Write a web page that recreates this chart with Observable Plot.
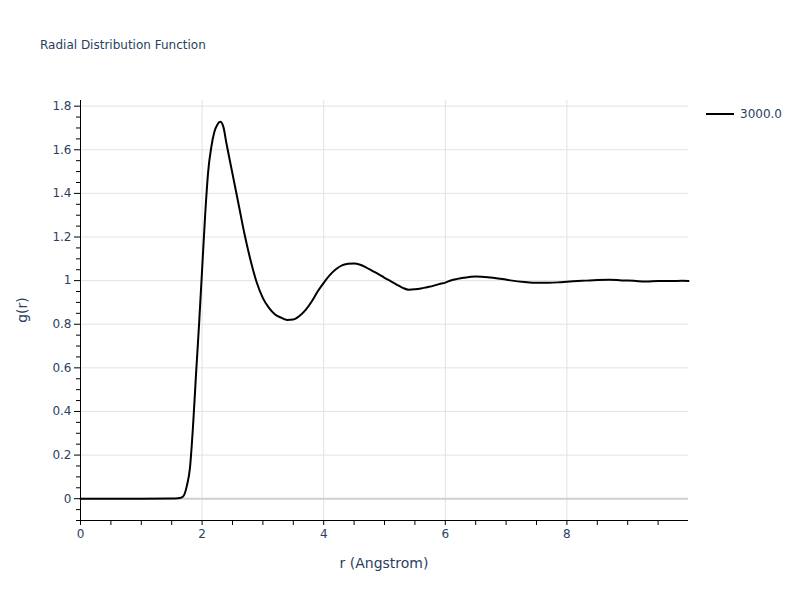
<!DOCTYPE html>
<html><head><meta charset="utf-8">
<script src="https://cdn.jsdelivr.net/npm/d3@7"></script>
<script src="https://cdn.jsdelivr.net/npm/@observablehq/plot@0.6"></script>
<style>
body{margin:0;background:#fff;font-family:"DejaVu Sans",Verdana,sans-serif;}
#wrap{position:relative;width:800px;height:600px;}
#title{position:absolute;left:40px;top:37px;font-size:12px;line-height:16px;color:#2a3f5f;}
#legend{position:absolute;left:706px;top:105px;height:18px;font-size:12px;line-height:18px;color:#2a3f5f;display:flex;align-items:center;}
#xlabel{position:absolute;left:0;width:768px;top:553px;text-align:center;font-size:14px;line-height:20px;color:#2a3f5f;}
#ylabel{position:absolute;left:22px;top:310px;font-size:14px;line-height:20px;color:#2a3f5f;transform:translate(-50%,-50%) rotate(-90deg);white-space:nowrap;}
</style></head><body>
<div id="wrap"><div id="chart"></div>
<div id="title">Radial Distribution Function</div>
<div id="legend"><svg width="34" height="4" style="margin-right:0"><line x1="0" x2="28" y1="2" y2="2" stroke="#000" stroke-width="2"/></svg><span id="legtext"></span></div>
<div id="xlabel">r (Angstrom)</div>
<div id="ylabel">g(r)</div>
</div>
<script>
const seriesName = "3000.0";
const r = [0, 0.5, 1.0, 1.5, 1.6, 1.65, 1.7, 1.75, 1.8, 1.85, 1.9, 1.95, 2.0, 2.05, 2.1, 2.15, 2.2, 2.25, 2.3, 2.35, 2.4, 2.5, 2.6, 2.7, 2.8, 2.9, 3.0, 3.1, 3.2, 3.3, 3.4, 3.5, 3.6, 3.7, 3.8, 3.9, 4.0, 4.1, 4.2, 4.3, 4.4, 4.5, 4.6, 4.7, 4.8, 4.9, 5.0, 5.1, 5.2, 5.3, 5.4, 5.5, 5.6, 5.7, 5.8, 5.9, 6.0, 6.1, 6.2, 6.3, 6.5, 6.7, 6.9, 7.1, 7.3, 7.5, 7.7, 7.9, 8.1, 8.3, 8.5, 8.7, 8.9, 9.1, 9.3, 9.5, 9.7, 9.9, 10.0];
const g = [0, 0, 0, 0.001, 0.002, 0.004, 0.015, 0.06, 0.14, 0.33, 0.57, 0.8, 1.05, 1.3, 1.5, 1.61, 1.68, 1.715, 1.728, 1.705, 1.63, 1.49, 1.35, 1.21, 1.09, 0.99, 0.92, 0.875, 0.845, 0.83, 0.82, 0.822, 0.838, 0.865, 0.903, 0.95, 0.99, 1.025, 1.052, 1.07, 1.077, 1.079, 1.073, 1.06, 1.045, 1.03, 1.013, 0.998, 0.982, 0.967, 0.958, 0.96, 0.964, 0.97, 0.976, 0.984, 0.991, 1.002, 1.008, 1.013, 1.019, 1.016, 1.009, 1.0, 0.994, 0.99, 0.99, 0.993, 0.997, 1.0, 1.003, 1.004, 1.001, 0.999, 0.996, 0.998, 0.998, 0.999, 0.998];
const xTicks = [0, 2, 4, 6, 8];
const xMinor = [0.5, 1, 1.5, 2.5, 3, 3.5, 4.5, 5, 5.5, 6.5, 7, 7.5, 8.5, 9, 9.5];
const yTicks = [0, 0.2, 0.4, 0.6, 0.8, 1, 1.2, 1.4, 1.6, 1.8];
const yMinor = [-0.1, -0.05, 0.05, 0.1, 0.15, 0.25, 0.3, 0.35, 0.45, 0.5, 0.55, 0.65, 0.7, 0.75, 0.85, 0.9, 0.95, 1.05, 1.1, 1.15, 1.25, 1.3, 1.35, 1.45, 1.5, 1.55, 1.65, 1.7, 1.75];

const data = r.map((v, i) => ({r: v, g: g[i]}));
document.getElementById("legtext").textContent = seriesName;

const chart = Plot.plot({
  width: 800, height: 600,
  marginLeft: 80, marginRight: 112, marginTop: 100, marginBottom: 80,
  style: {fontFamily: '"DejaVu Sans", Verdana, sans-serif', fontSize: "12px", color: "#2a3f5f", background: "#fff", overflow: "visible"},
  x: {domain: [0, 10]},
  y: {domain: [-0.1, 1.826]},
  marks: [
    Plot.gridX(xTicks.filter(d => d > 0), {stroke: "#e2e2e2", strokeOpacity: 1}),
    Plot.gridY(yTicks.filter(d => d !== 0), {stroke: "#e2e2e2", strokeOpacity: 1}),
    Plot.ruleY([0], {stroke: "#cfcfcf", strokeWidth: 2}),
    Plot.line(data, {x: "r", y: "g", stroke: "#000", strokeWidth: 2, curve: "monotone-x"}),
    Plot.ruleX([0], {stroke: "#000", strokeWidth: 1}),
    Plot.ruleY([-0.1], {stroke: "#000", strokeWidth: 1}),
    Plot.axisX({ticks: xMinor, tickSize: 5, text: null, label: null, stroke: "#000"}),
    Plot.axisX({ticks: xTicks, tickSize: 5, tickPadding: 4, tickFormat: d => String(d), label: null, stroke: "#000", fill: "#2a3f5f"}),
    Plot.axisY({ticks: yMinor, tickSize: 4, text: null, label: null, stroke: "#000"}),
    Plot.axisY({ticks: yTicks, tickSize: 6, tickPadding: 3, tickFormat: d => String(+d.toFixed(1)), label: null, stroke: "#000", fill: "#2a3f5f"})
  ]
});
document.getElementById("chart").appendChild(chart);
</script>
</body></html>
